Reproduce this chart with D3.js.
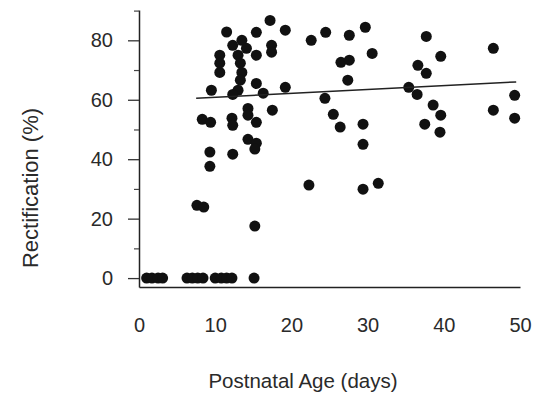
<!DOCTYPE html>
<html>
<head>
<meta charset="utf-8">
<script src="https://cdn.jsdelivr.net/npm/d3@7/dist/d3.min.js"></script>
<style>
  html, body { margin: 0; padding: 0; background: #fff; }
  svg { display: block; }
  text { font-family: "Liberation Sans", Arial, Helvetica, sans-serif; fill: #2a2a2a; }
</style>
</head>
<body>
<svg id="chart" width="545" height="400"></svg>
<script>
// Postnatal age (days) for each recorded cell
const ageDays = [
  1.0, 1.7, 2.5, 3.1, 6.3, 7.0, 7.7, 8.4, 10.0, 10.8, 11.5, 12.2, 15.1,
  7.6, 8.5, 15.2,
  9.3, 9.3, 12.3, 14.3, 15.4, 15.2,
  8.3, 9.4, 12.2, 12.3, 14.3, 14.3, 15.4, 17.5,
  11.5, 10.6, 10.6, 10.6, 13.5, 12.3, 14.1, 13.0, 15.4, 13.3, 13.5, 13.3, 13.0, 12.3,
  15.4, 15.4, 17.2, 17.4, 17.4, 19.2, 9.5, 16.3, 19.2,
  22.6, 24.5, 27.6, 29.7, 30.6, 26.5, 27.6, 27.4, 24.4, 25.5, 26.4, 29.4, 29.4,
  22.3, 29.4, 31.4,
  37.7, 39.6, 36.6, 37.7, 35.4, 36.5, 38.6, 39.6, 37.5, 39.5,
  46.5, 49.3, 46.5, 49.3
];
// Rectification (%) for each recorded cell
const rectification = [
  0, 0, 0, 0, 0, 0, 0, 0, 0, 0, 0, 0, 0,
  24.5, 23.9, 17.5,
  42.4, 37.6, 41.7, 46.7, 45.4, 43.4,
  53.4, 52.4, 53.8, 51.4, 57.1, 54.8, 52.4, 56.5,
  82.8, 75.0, 72.3, 69.2, 80.0, 78.3, 77.3, 75.0, 75.0, 72.3, 69.2, 66.6, 63.2, 61.8,
  65.5, 82.7, 86.7, 78.3, 76.0, 83.4, 63.2, 62.2, 64.2,
  80.0, 82.7, 81.7, 84.4, 75.6, 72.6, 73.3, 66.6, 60.5, 55.1, 50.8, 51.8, 45.0,
  31.3, 29.9, 31.9,
  81.3, 74.6, 71.6, 68.9, 64.2, 61.8, 58.2, 54.8, 51.8, 49.1,
  77.3, 61.5, 56.5, 53.8
];
// Regression line end points (days, %)
const fitDays = [7.5, 49.5];
const fitValues = [60.5, 66.0];

const xTicks = [0, 10, 20, 30, 40, 50];
const yMajorTicks = [0, 20, 40, 60, 80];
const yMinorTicks = [10, 30, 50, 70, 90];
const xTitle = "Postnatal Age (days)";
const yTitle = "Rectification (%)";

const svg = d3.select("#chart");
const x = d3.scaleLinear().domain([0, 50]).range([139, 520]);
const y = d3.scaleLinear().domain([-3, 90.2]).range([287, 10]);

// Y axis: major ticks
const yMajor = d3.axisLeft(y).tickValues(yMajorTicks).tickSize(11).tickSizeOuter(0).tickPadding(15).tickFormat(d3.format("d"));
const gy = svg.append("g").attr("transform", "translate(139,0)").call(yMajor);
gy.select(".domain").attr("stroke", "#222").attr("stroke-width", 1.5);
gy.selectAll(".tick line").attr("stroke", "#333").attr("stroke-width", 1.3);
gy.selectAll(".tick text").style("font-size", "20px").attr("fill", "#2a2a2a");
// Y axis: minor ticks
const yMinor = d3.axisLeft(y).tickValues(yMinorTicks).tickSize(5).tickSizeOuter(0).tickFormat("");
const gy2 = svg.append("g").attr("transform", "translate(139,0)").call(yMinor);
gy2.select(".domain").remove();
gy2.selectAll(".tick line").attr("stroke", "#444").attr("stroke-width", 1.2);

// X axis
const xAxis = d3.axisBottom(x).tickValues(xTicks).tickSize(0).tickSizeOuter(0).tickPadding(31).tickFormat(d3.format("d"));
const gx = svg.append("g").attr("transform", "translate(0,287)").call(xAxis);
gx.select(".domain").attr("stroke", "#222").attr("stroke-width", 1.5);
gx.selectAll(".tick text").style("font-size", "20px").attr("fill", "#2a2a2a");

// Points
svg.append("g").selectAll("circle")
  .data(ageDays.map((d, i) => [d, rectification[i]]))
  .join("circle")
  .attr("cx", d => x(d[0]))
  .attr("cy", d => y(d[1]))
  .attr("r", 5.5)
  .attr("fill", "#111");

// Regression line
svg.append("path")
  .datum(fitDays.map((d, i) => [d, fitValues[i]]))
  .attr("d", d3.line().x(d => x(d[0])).y(d => y(d[1])))
  .attr("stroke", "#222")
  .attr("stroke-width", 1.5)
  .attr("fill", "none");

// Titles
svg.append("text")
  .attr("x", 303)
  .attr("y", 388)
  .attr("text-anchor", "middle")
  .style("font-size", "20.5px")
  .text(xTitle);
svg.append("text")
  .attr("transform", `translate(38,188) rotate(-90)`)
  .attr("text-anchor", "middle")
  .style("font-size", "22px")
  .text(yTitle);
</script>
</body>
</html>
